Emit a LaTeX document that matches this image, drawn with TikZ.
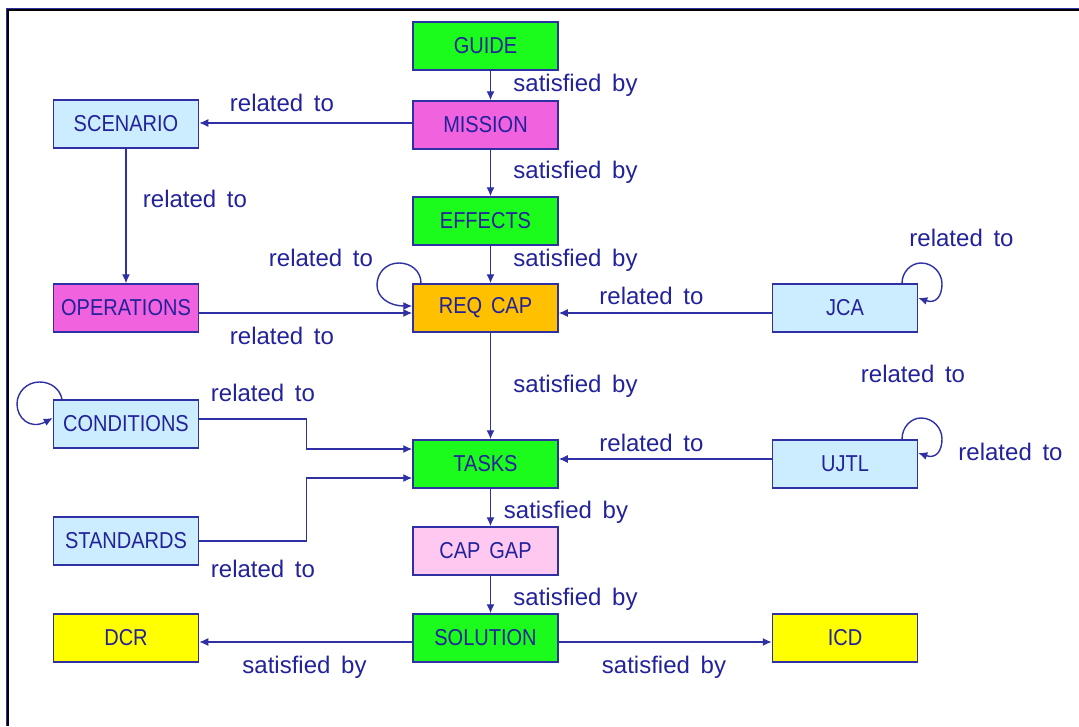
\documentclass[tikz,border=0pt]{standalone}
\usepackage{fontspec}
\usetikzlibrary{arrows.meta}
\newfontfamily\diagfont[WordSpace=1.6]{Liberation Sans}
\newfontfamily\boxfam[WordSpace=1.6, FakeStretch=0.87]{Liberation Sans}
\newcommand\boxfont{\boxfam\fontsize{23}{27}\selectfont}
\newcommand\labelfont{\diagfont\fontsize{24}{28}\selectfont}
\definecolor{edgeblue}{RGB}{48,48,165}
\definecolor{txtblue}{RGB}{34,34,155}
\definecolor{fgreen}{RGB}{28,252,28}
\definecolor{fmagenta}{RGB}{240,98,222}
\definecolor{flightblue}{RGB}{204,236,255}
\definecolor{forange}{RGB}{255,192,0}
\definecolor{fpink}{RGB}{255,200,240}
\definecolor{fyellow}{RGB}{255,255,0}
\tikzset{
  box/.style={draw=edgeblue, line width=1.5pt, minimum width=145pt,
    minimum height=48pt, inner sep=0pt, font=\boxfont, text=txtblue},
  lbl/.style={font=\labelfont, text=txtblue, anchor=base, inner sep=0pt},
  edge/.style={draw=edgeblue, line width=1.4pt,
    -{Latex[length=9pt,width=8pt]}},
}
\begin{document}
\begin{tikzpicture}[x=1pt, y=-1pt]
\useasboundingbox (0,0) rectangle (1079,726);
\fill[white] (0,0) rectangle (1079,726);
% outer frame (top and left only)
\draw[edgeblue, line width=1pt] (6.5,726) -- (6.5,8.8) -- (1079,8.8);
\draw[black, line width=1.7pt] (7.9,726) -- (7.9,10.2) -- (1079,10.2);

% boxes
\node[box, fill=fgreen]     (guide)    at (485.5,46)  {GUIDE};
\node[box, fill=fmagenta]   (mission)  at (485.5,125) {MISSION};
\node[box, fill=flightblue] (scenario) at (126,124)   {SCENARIO};
\node[box, fill=fgreen]     (effects)  at (485.5,221) {EFFECTS};
\node[box, fill=fmagenta]   (ops)      at (126,308)   {OPERATIONS};
\node[box, fill=forange]    (reqcap)   at (485.5,308) {REQ CAP};
\node[box, fill=flightblue] (jca)      at (845,308)   {JCA};
\node[box, fill=flightblue] (cond)     at (126,424)   {CONDITIONS};
\node[box, fill=fgreen]     (tasks)    at (485.5,464) {TASKS};
\node[box, fill=flightblue] (ujtl)     at (845,464)   {UJTL};
\node[box, fill=flightblue] (std)      at (126,541)   {STANDARDS};
\node[box, fill=fpink]      (capgap)   at (485.5,551) {CAP GAP};
\node[box, fill=fgreen]     (solution) at (485.5,638) {SOLUTION};
\node[box, fill=fyellow]    (dcr)      at (126,638)   {DCR};
\node[box, fill=fyellow]    (icd)      at (845,638)   {ICD};

% straight connectors
\draw[edge] ([xshift=5pt]guide.south) -- ([xshift=5pt]mission.north);
\draw[edge] ([yshift=2pt]mission.west) -- ([yshift=2pt]mission.west -| scenario.east);
\draw[edge] ([xshift=5pt]mission.south) -- ([xshift=5pt]effects.north);
\draw[edge] (scenario.south) -- (ops.north);
\draw[edge] ([xshift=5pt]effects.south) -- ([xshift=5pt]reqcap.north);
\draw[edge] ([yshift=-5pt]ops.east) -- ([yshift=-5pt]reqcap.west);
\draw[edge] ([yshift=-5pt]jca.west) -- ([yshift=-5pt]reqcap.east);
\draw[edge] ([xshift=5pt]reqcap.south) -- ([xshift=5pt]tasks.north);
\draw[edge] ([yshift=5pt]ujtl.west) -- ([yshift=5pt]tasks.east);
\draw[edge] ([xshift=5pt]tasks.south) -- ([xshift=5pt]capgap.north);
\draw[edge] ([xshift=5pt]capgap.south) -- ([xshift=5pt]solution.north);
\draw[edge] ([yshift=-4pt]solution.west) -- ([yshift=-4pt]dcr.east);
\draw[edge] ([yshift=-4pt]solution.east) -- ([yshift=-4pt]icd.west);

% elbow connectors into TASKS
\draw[edge] ([yshift=5pt]cond.east) -- ++(107,0) |- ([yshift=15pt]tasks.west);
\draw[edge] (std.east) -- ++(107,0) |- ([yshift=-14pt]tasks.west);

% self loops
\draw[edge] ([xshift=-64.5pt]reqcap.north)
  .. controls (421,271) and (411,263) .. (399,263)
  .. controls (386,263) and (377,273) .. (377,285)
  .. controls (377,298) and (390,306) .. ([yshift=1pt]reqcap.west |- 0,307);
\draw[edge] ([xshift=57pt]jca.north)
  .. controls (902,272) and (911,263) .. (921,263)
  .. controls (933,263) and (942,273) .. (942,284)
  .. controls (942,296) and (936,304) .. ([yshift=10pt]jca.east);
\draw[edge] ([xshift=57pt]ujtl.north)
  .. controls (902,427) and (911,418) .. (921,418)
  .. controls (933,418) and (942,428) .. (942,439)
  .. controls (942,451) and (936,459) .. ([yshift=11pt]ujtl.east);
\draw[edge] ([xshift=-64pt]cond.north)
  .. controls (60,389) and (51,382) .. (39.5,382)
  .. controls (27,382) and (17,392) .. (17,404)
  .. controls (17,418) and (30,430) .. ([yshift=6pt]cond.west);

% connector labels
\node[lbl] (l1)  at (575.5,91)  {satisfied by};
\node[lbl] (l2)  at (282,111)   {related to};
\node[lbl] (l3)  at (575.5,178) {satisfied by};
\node[lbl] (l4)  at (195,207)   {related to};
\node[lbl] (l5)  at (961.5,246) {related to};
\node[lbl] (l6)  at (321,266)   {related to};
\node[lbl] (l7)  at (575.5,266) {satisfied by};
\node[lbl] (l8)  at (651.5,304) {related to};
\node[lbl] (l9)  at (282,344)   {related to};
\node[lbl] (l10) at (913,382)   {related to};
\node[lbl] (l11) at (575.5,392) {satisfied by};
\node[lbl] (l12) at (263,401)   {related to};
\node[lbl] (l13) at (651.5,451) {related to};
\node[lbl] (l14) at (1010.5,460) {related to};
\node[lbl] (l15) at (566,518)   {satisfied by};
\node[lbl] (l16) at (263,577)   {related to};
\node[lbl] (l17) at (575.5,605) {satisfied by};
\node[lbl] (l18) at (304.5,673) {satisfied by};
\node[lbl] (l19) at (664,673)   {satisfied by};
\end{tikzpicture}
\end{document}
